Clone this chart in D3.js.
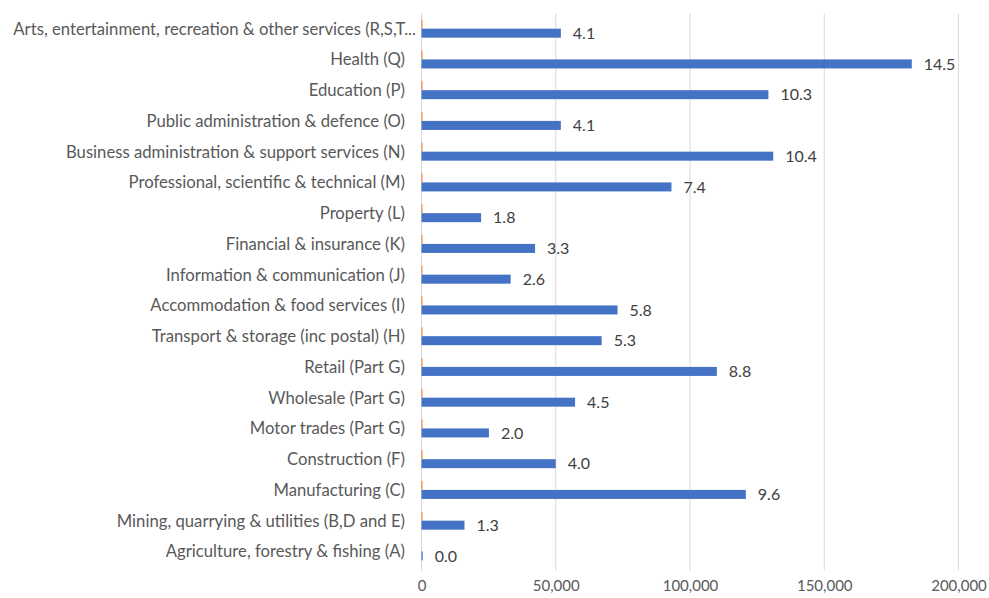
<!DOCTYPE html>
<html>
<head>
<meta charset="utf-8">
<script src="https://cdn.jsdelivr.net/npm/d3@7"></script>
<style>
  html, body { margin: 0; padding: 0; background: #fff; }
  svg { display: block; font-family: Lato, "Open Sans", sans-serif; }
</style>
</head>
<body>
<svg id="chart" width="989" height="598"></svg>
<script>
// Industries, top to bottom
const industries = [
  "Arts, entertainment, recreation & other services (R,S,T...",
  "Health (Q)",
  "Education (P)",
  "Public administration & defence (O)",
  "Business administration & support services (N)",
  "Professional, scientific & technical (M)",
  "Property (L)",
  "Financial & insurance (K)",
  "Information & communication (J)",
  "Accommodation & food services (I)",
  "Transport & storage (inc postal) (H)",
  "Retail (Part G)",
  "Wholesale (Part G)",
  "Motor trades (Part G)",
  "Construction (F)",
  "Manufacturing (C)",
  "Mining, quarrying & utilities (B,D and E)",
  "Agriculture, forestry & fishing (A)"
];

// Employment by industry (people)
const employees = [
  51900, 182600, 129200, 51900, 131000, 93100, 22200, 42300, 33200,
  73000, 67100, 110000, 57200, 25100, 50000, 120800, 16000, 450
];

// Share of total employment (%), shown as data labels
const sharePct = [
  4.1, 14.5, 10.3, 4.1, 10.4, 7.4, 1.8, 3.3, 2.6,
  5.8, 5.3, 8.8, 4.5, 2.0, 4.0, 9.6, 1.3, 0.0
];

const xTicks = [0, 50000, 100000, 150000, 200000];

const svg = d3.select("#chart");
const plot = { left: 421.5, right: 958.5, top: 13.3, bottom: 566.8 };

const x = d3.scaleLinear().domain([0, 200000]).range([plot.left, plot.right]);

const step = (plot.bottom - plot.top) / industries.length;
const y = d3.scaleBand()
  .domain(industries)
  .range([plot.top, plot.bottom])
  .paddingInner(1 - 18 / step)
  .paddingOuter((1 - 18 / step) / 2);

// two series per row: share (upper, orange) and employees (lower, blue)
const ySeries = d3.scaleBand().domain(["share", "employees"]).range([0, y.bandwidth()]);

// vertical gridlines
svg.append("g")
  .selectAll("line")
  .data(xTicks.slice(1))
  .join("line")
  .attr("x1", d => x(d)).attr("x2", d => x(d))
  .attr("y1", plot.top).attr("y2", plot.bottom + 4)
  .attr("stroke", "#d9d9d9").attr("stroke-width", 1);

// category axis line
svg.append("line")
  .attr("x1", x(0)).attr("x2", x(0))
  .attr("y1", plot.top).attr("y2", plot.bottom + 4)
  .attr("stroke", "#d9d9d9").attr("stroke-width", 1);

const rows = industries.map((name, i) => ({
  name, employees: employees[i], share: sharePct[i]
}));

// share series, plotted on the same axis
svg.append("g")
  .selectAll("rect")
  .data(rows.filter(d => d.share > 0))
  .join("rect")
  .attr("x", x(0))
  .attr("y", d => y(d.name) + ySeries("share"))
  .attr("width", d => Math.max(1, x(d.share) - x(0)))
  .attr("height", ySeries.bandwidth())
  .attr("fill", "#ed7d31");

// employee bars
svg.append("g")
  .selectAll("rect")
  .data(rows)
  .join("rect")
  .attr("x", x(0))
  .attr("y", d => y(d.name) + ySeries("employees"))
  .attr("width", d => Math.max(1, x(d.employees) - x(0)))
  .attr("height", ySeries.bandwidth())
  .attr("fill", "#4472c4");

// share labels at the end of each bar
svg.append("g")
  .selectAll("text")
  .data(rows)
  .join("text")
  .attr("x", d => x(d.employees) + 12)
  .attr("y", d => y(d.name) + ySeries("employees") + ySeries.bandwidth() / 2)
  .attr("dy", "0.35em")
  .attr("font-size", 16)
  .attr("fill", "#404040")
  .text(d => d.share.toFixed(1));

// category labels
svg.append("g")
  .selectAll("text")
  .data(industries)
  .join("text")
  .attr("x", (d, i) => i === 0 ? 416 : 405)
  .attr("y", d => y(d) + y.bandwidth() / 2)
  .attr("dy", "0.35em")
  .attr("text-anchor", "end")
  .attr("font-size", 16.7)
  .attr("fill", "#595959")
  .text(d => d);

// value axis
const xAxis = d3.axisBottom(x).tickValues(xTicks).tickSize(0).tickPadding(0)
  .tickFormat(d3.format(","));
const gx = svg.append("g")
  .attr("transform", `translate(0,${plot.bottom + 14})`)
  .call(xAxis);
gx.select(".domain").remove();
gx.selectAll("text")
  .attr("font-size", 15)
  .attr("font-family", "Lato, 'Open Sans', sans-serif")
  .attr("fill", "#595959");
</script>
</body>
</html>
